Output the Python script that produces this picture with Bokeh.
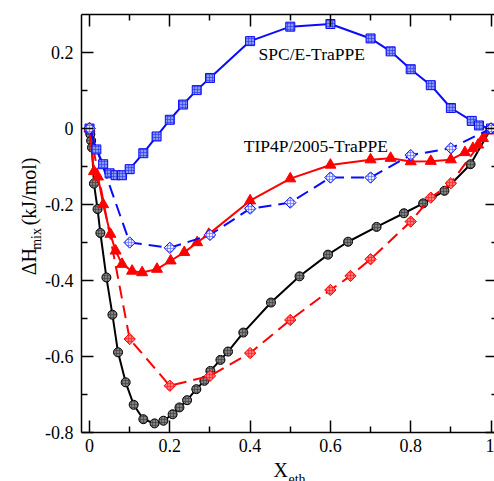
import math
from bokeh.plotting import figure
from bokeh.models import Range1d, FixedTicker, LinearAxis, Label
from bokeh.layouts import row, column
from bokeh.core.properties import value
from bokeh.embed import file_html
from bokeh.resources import INLINE

# ---- data ----
x_spce = [0, 0.017, 0.034, 0.05, 0.065, 0.081, 0.1, 0.134, 0.167, 0.2, 0.233, 0.267, 0.3,
          0.4, 0.5, 0.6, 0.7, 0.75, 0.8, 0.85, 0.9, 0.952, 0.97, 1.0]
y_spce = [0, -0.055, -0.094, -0.118, -0.123, -0.123, -0.107, -0.065, -0.021, 0.023, 0.063, 0.101, 0.133,
          0.23, 0.268, 0.275, 0.237, 0.203, 0.156, 0.114, 0.054, 0.02, 0.008, 0.0]

x_tip = [0, 0.1, 0.2, 0.3, 0.4, 0.5, 0.6, 0.7, 0.8, 0.9, 1.0]
y_tip = [0, -0.30, -0.314, -0.28, -0.211, -0.195, -0.129, -0.129, -0.07, -0.052, 0]

x_red = [0, 0.011, 0.021, 0.034, 0.052, 0.065, 0.081, 0.106, 0.131, 0.168, 0.202, 0.236, 0.268, 0.297,
         0.4, 0.5, 0.6, 0.7, 0.75, 0.8, 0.85, 0.9, 0.935, 0.955, 0.968, 0.98, 0.995]
y_red = [0, -0.113, -0.127, -0.2, -0.278, -0.322, -0.357, -0.375, -0.379, -0.37, -0.348, -0.326, -0.3, -0.278,
         -0.19, -0.132, -0.096, -0.082, -0.078, -0.087, -0.086, -0.082, -0.063, -0.052, -0.043, -0.026, -0.006]

x_blk = [0, 0.002, 0.004, 0.006, 0.011, 0.02, 0.027, 0.042, 0.057, 0.071, 0.09, 0.11, 0.134, 0.162, 0.184,
         0.207, 0.224, 0.243, 0.266, 0.286, 0.301, 0.326, 0.345, 0.383, 0.452, 0.523, 0.594, 0.644, 0.715,
         0.783, 0.831, 0.884, 0.949, 1.0]
y_blk = [0, -0.015, -0.032, -0.05, -0.145, -0.212, -0.275, -0.392, -0.49, -0.589, -0.668, -0.727, -0.765,
         -0.776, -0.769, -0.752, -0.734, -0.715, -0.686, -0.664, -0.638, -0.609, -0.587, -0.537, -0.458,
         -0.389, -0.332, -0.298, -0.259, -0.223, -0.197, -0.164, -0.094, 0]

x_rd = [0, 0.1, 0.2, 0.3, 0.4, 0.5, 0.6, 0.65, 0.7, 0.8, 0.85, 0.9, 1.0]
y_rd = [0, -0.554, -0.677, -0.651, -0.591, -0.504, -0.425, -0.388, -0.344, -0.245, -0.182, -0.144, 0]

x_ticks = [0, 0.2, 0.4, 0.6, 0.8, 1.0]
x_tick_labels = ["0", "0.2", "0.4", "0.6", "0.8", "1"]
x_minor = [0.1, 0.3, 0.5, 0.7, 0.9]
y_ticks = [-0.8, -0.6, -0.4, -0.2, 0, 0.2]
y_tick_labels = ["-0.8", "-0.6", "-0.4", "-0.2", "0", "0.2"]
y_minor = [-0.7, -0.5, -0.3, -0.1, 0.1]

series_labels = ["SPC/E-TraPPE", "TIP4P/2005-TraPPE"]
y_title_parts = ["\u0394H", "mix", "(kJ/mol)"]
x_title_parts = ["X", "eth"]

FONT = "Liberation Serif"
BLUE = "#0a0aff"
RED = "#ff0000"

W, H = 494, 481
YLAB_W = 42
MAIN_H = 460
GAP = 6          # extra vertical space the page leaves below the first row

# ---------------- main plot ----------------
p = figure(width=W - YLAB_W, height=MAIN_H, output_backend="svg", toolbar_location=None,
           x_range=Range1d(-0.02, 1.0087), y_range=Range1d(-0.8, 0.3),
           min_border_left=81 - YLAB_W, min_border_right=0, min_border_top=14, min_border_bottom=28,
           x_axis_location=None, y_axis_location=None)
p.title.visible = False
p.xgrid.visible = False
p.ygrid.visible = False
p.outline_line_color = None
p.background_fill_color = "white"
p.border_fill_color = "white"


def make_axis(minor, ticks, labels, show_labels, tick_in=12, minor_in=6):
    ax = LinearAxis(ticker=FixedTicker(ticks=ticks, minor_ticks=minor))
    ax.major_tick_in = tick_in
    ax.major_tick_out = 0
    ax.minor_tick_in = minor_in
    ax.minor_tick_out = 0
    ax.major_tick_line_width = 1.5
    ax.minor_tick_line_width = 1.5
    ax.axis_line_width = 1.5
    ax.major_label_overrides = {t: s for t, s in zip(ticks, labels)}
    ax.major_label_text_font = FONT
    if show_labels:
        ax.major_label_text_font_size = "18px"
        ax.major_label_text_color = "black"
    else:
        ax.major_label_text_font_size = "1px"
        ax.major_label_text_color = None
        ax.major_label_standoff = 0
    return ax


bx = make_axis(x_minor, x_ticks, x_tick_labels, True)
bx.major_label_standoff = 6
p.add_layout(bx, "below")
ly = make_axis(y_minor, y_ticks, y_tick_labels, True)
ly.major_label_standoff = 8
p.add_layout(ly, "left")
p.add_layout(make_axis(x_minor, x_ticks, x_tick_labels, False), "above")
ry = make_axis(y_minor, y_ticks, y_tick_labels, False, tick_in=9, minor_in=3)
ry.axis_line_color = None
p.add_layout(ry, "right")

DASH = "13 7"

# black solid, circles
p.line(x_blk, y_blk, line_color="black", line_width=2)
p.scatter(x_blk, y_blk, marker="circle", size=9, line_color="black", line_width=1,
          fill_color="#808080", hatch_pattern="cross", hatch_color="#404040", hatch_scale=3, hatch_weight=0.7)

# red dashed, diamonds
p.line(x_rd, y_rd, line_color=RED, line_width=2, line_dash=DASH)
p.scatter(x_rd, y_rd, marker="square", angle=math.pi / 4, size=8, line_color=RED, line_width=1,
          fill_color="#ff7a7a", hatch_pattern="cross", hatch_color="#ff2020", hatch_scale=3, hatch_weight=0.7)

# red solid, triangles
p.line(x_red, y_red, line_color=RED, line_width=2)
p.scatter(x_red, y_red, marker="triangle", size=11, line_color=RED, fill_color=RED)

# blue dashed line
p.line(x_tip, y_tip, line_color=BLUE, line_width=2, line_dash=DASH)

# blue solid, squares
p.line(x_spce, y_spce, line_color=BLUE, line_width=2)
p.scatter(x_spce, y_spce, marker="square", size=9, line_color=BLUE, line_width=1,
          fill_color="#8a96f4", hatch_pattern="cross", hatch_color="#3040e8", hatch_scale=3, hatch_weight=0.7)

# blue dashed markers (diamonds)
p.scatter(x_tip, y_tip, marker="square", angle=math.pi / 4, size=8, line_color=BLUE, line_width=1,
          fill_color="#e6e9ff", hatch_pattern="cross", hatch_color="#6070ff", hatch_scale=3, hatch_weight=0.7)

# series annotations
p.add_layout(Label(x=0.421, y=0.197, text=series_labels[0], text_font=FONT, text_font_size="17.5px",
                   text_baseline="middle", text_align="left", text_color="black"))
p.add_layout(Label(x=0.384, y=-0.046, text=series_labels[1], text_font=FONT, text_font_size="17.5px",
                   text_baseline="middle", text_align="left", text_color="black"))

# ---------------- y-axis title strip (pixel coordinates) ----------------
yl = figure(width=YLAB_W, height=MAIN_H, output_backend="svg", toolbar_location=None,
            x_range=Range1d(0, YLAB_W), y_range=Range1d(0, MAIN_H),
            min_border=0, x_axis_location=None, y_axis_location=None)
yl.title.visible = False
yl.xgrid.visible = False
yl.ygrid.visible = False
yl.outline_line_color = None
ang = math.pi / 2
yl.add_layout(Label(x=28, y=MAIN_H - 287, text=y_title_parts[0], angle=ang, text_font=FONT,
                    text_font_size="20px", text_baseline="alphabetic", text_align="left", text_color="black"))
yl.add_layout(Label(x=36, y=MAIN_H - 259, text=y_title_parts[1], angle=ang, text_font=FONT,
                    text_font_size="14px", text_baseline="alphabetic", text_align="left", text_color="black"))
yl.add_layout(Label(x=28, y=MAIN_H - 232, text=y_title_parts[2], angle=ang, text_font=FONT,
                    text_font_size="20px", text_baseline="alphabetic", text_align="left", text_color="black"))

# ---------------- x-axis title strip ----------------
XL_H = H - MAIN_H
top_xl = MAIN_H + GAP
xl = figure(width=W, height=XL_H, output_backend="svg", toolbar_location=None,
            x_range=Range1d(0, W), y_range=Range1d(0, XL_H),
            min_border=0, x_axis_location=None, y_axis_location=None)
xl.title.visible = False
xl.xgrid.visible = False
xl.ygrid.visible = False
xl.outline_line_color = None
xl.text(x=[273], y=[XL_H - (475 - top_xl)], text=[x_title_parts[0]], text_font=value(FONT),
        text_font_size="20px", text_baseline="alphabetic", text_align="left", text_color="black")
xl.text(x=[288], y=[XL_H - (485 - top_xl)], text=[x_title_parts[1]], text_font=value(FONT),
        text_font_size="14px", text_baseline="alphabetic", text_align="left", text_color="black")

layout = column(row(yl, p, spacing=0), xl, spacing=0)
open("out.html", "w").write(file_html(layout, INLINE))
